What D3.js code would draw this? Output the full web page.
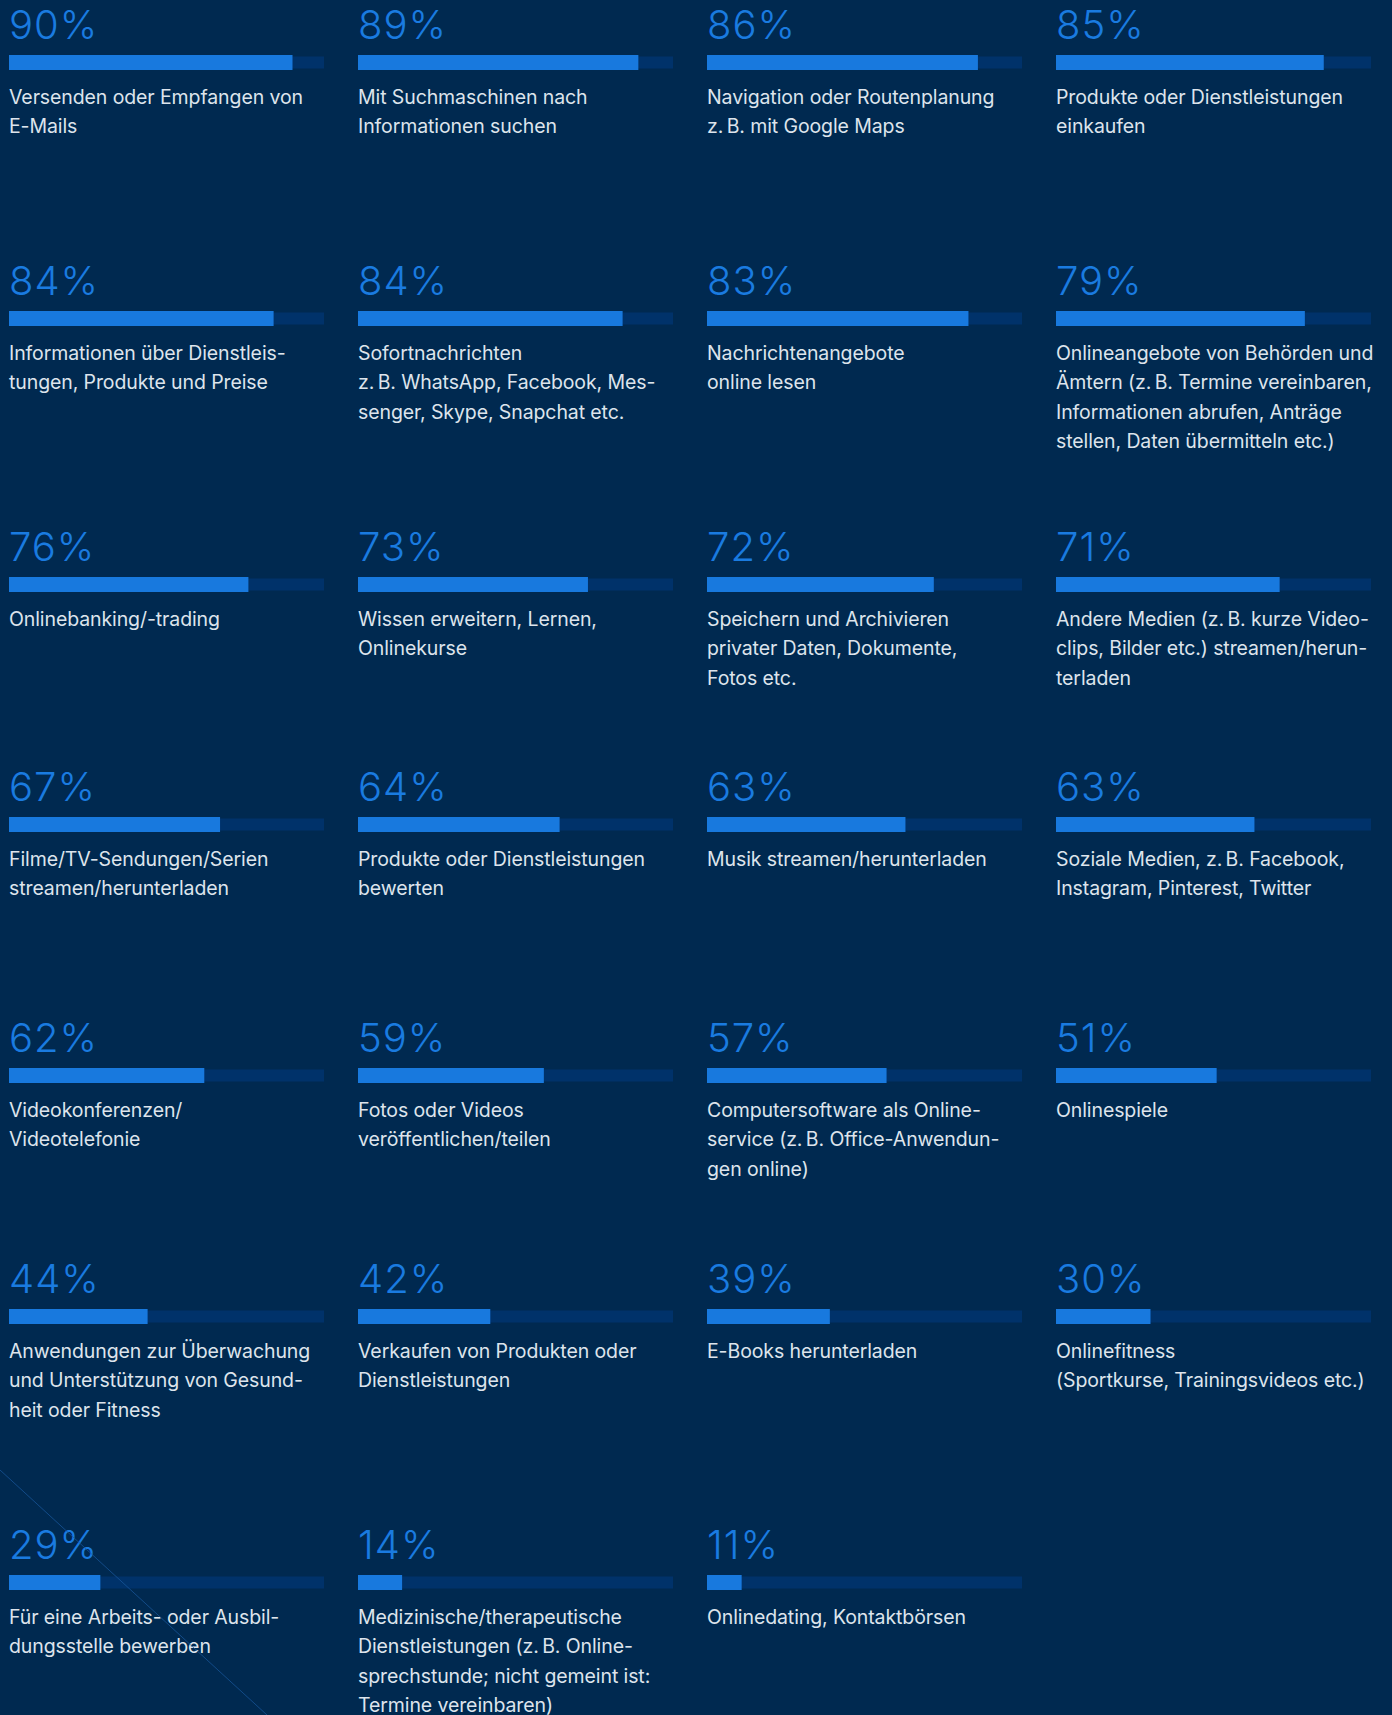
<!DOCTYPE html>
<html lang="de">
<head>
<meta charset="utf-8">
<script src="https://cdn.jsdelivr.net/npm/d3@7"></script>
<style>
  html, body { margin: 0; padding: 0; background: #002950; }
  svg { display: block; }
</style>
</head>
<body>
<div id="chart"></div>
<script>
// ---- Data ----
const categories = [
  "Versenden oder Empfangen von\nE-Mails",
  "Mit Suchmaschinen nach\nInformationen suchen",
  "Navigation oder Routenplanung\nz.\u202FB. mit Google Maps",
  "Produkte oder Dienstleistungen\neinkaufen",
  "Informationen über Dienstleis-\ntungen, Produkte und Preise",
  "Sofortnachrichten\nz.\u202FB. WhatsApp, Facebook, Mes-\nsenger, Skype, Snapchat etc.",
  "Nachrichtenangebote\nonline lesen",
  "Onlineangebote von Behörden und\nÄmtern (z.\u202FB. Termine vereinbaren,\nInformationen abrufen, Anträge\nstellen, Daten übermitteln etc.)",
  "Onlinebanking/-trading",
  "Wissen erweitern, Lernen,\nOnlinekurse",
  "Speichern und Archivieren\nprivater Daten, Dokumente,\nFotos etc.",
  "Andere Medien (z.\u202FB. kurze Video-\nclips, Bilder etc.) streamen/herun-\nterladen",
  "Filme/TV-Sendungen/Serien\nstreamen/herunterladen",
  "Produkte oder Dienstleistungen\nbewerten",
  "Musik streamen/herunterladen",
  "Soziale Medien, z.\u202FB. Facebook,\nInstagram, Pinterest, Twitter",
  "Videokonferenzen/\nVideotelefonie",
  "Fotos oder Videos\nveröffentlichen/teilen",
  "Computersoftware als Online-\nservice (z.\u202FB. Office-Anwendun-\ngen online)",
  "Onlinespiele",
  "Anwendungen zur Überwachung\nund Unterstützung von Gesund-\nheit oder Fitness",
  "Verkaufen von Produkten oder\nDienstleistungen",
  "E-Books herunterladen",
  "Onlinefitness\n(Sportkurse, Trainingsvideos etc.)",
  "Für eine Arbeits- oder Ausbil-\ndungsstelle bewerben",
  "Medizinische/therapeutische\nDienstleistungen (z.\u202FB. Online-\nsprechstunde; nicht gemeint ist:\nTermine vereinbaren)",
  "Onlinedating, Kontaktbörsen"
];
const values = [90, 89, 86, 85, 84, 84, 83, 79, 76, 73, 72, 71, 67, 64, 63, 63, 62, 59, 57, 51, 44, 42, 39, 30, 29, 14, 11];
const valueDomain = [0, 100];

// ---- Layout ----
const W = 1392, H = 1715;
const nCols = 4;
const colLeft = 9, colPitch = 349, barW = 315;
const rowTops = [55, 311, 577, 817, 1068, 1309, 1575];
const fillH = 15, trackInset = 1.5;

const svg = d3.select("#chart").append("svg")
  .attr("width", W).attr("height", H)
  .style("font-family", "Inter, 'Noto Sans', sans-serif");

svg.append("rect").attr("width", W).attr("height", H).attr("fill", "#002950");

const xCol = d3.scaleLinear().domain([0, 1]).range([colLeft, colLeft + colPitch]);
const wScale = d3.scaleLinear().domain(valueDomain).range([0, barW]);

const data = categories.map((c, i) => ({
  label: c, value: values[i],
  col: i % nCols, row: Math.floor(i / nCols)
}));

const g = svg.selectAll("g.item").data(data).join("g")
  .attr("class", "item")
  .attr("transform", d => `translate(${xCol(d.col)},${rowTops[d.row]})`);

g.append("rect")
  .attr("x", 0).attr("y", trackInset)
  .attr("width", wScale(valueDomain[1])).attr("height", fillH - 2 * trackInset)
  .attr("fill", "#00326a");

g.append("rect")
  .attr("x", 0).attr("y", 0)
  .attr("width", d => wScale(d.value)).attr("height", fillH)
  .attr("fill", "#1879de");

g.append("text")
  .attr("x", 0).attr("y", -16)
  .attr("fill", "#1a7be0")
  .attr("font-size", 40)
  .attr("letter-spacing", 1)
  .attr("font-weight", 300)
  .text(d => d.value + "%");

const lab = g.append("text")
  .attr("x", 0).attr("y", 49)
  .attr("fill", "#dde4ec")
  .attr("font-size", 19.5)
  .attr("letter-spacing", -0.1)
  .attr("font-weight", 400);
lab.selectAll("tspan").data(d => d.label.split("\n")).join("tspan")
  .attr("x", 0)
  .attr("dy", (d, i) => i === 0 ? 0 : 29.3)
  .text(d => d);

// decorative diagonal line
svg.append("line")
  .attr("x1", 0).attr("y1", 1470).attr("x2", 267).attr("y2", 1715)
  .attr("stroke", "#1a5aa0").attr("stroke-opacity", 0.7).attr("stroke-width", 1);
</script>
</body>
</html>
